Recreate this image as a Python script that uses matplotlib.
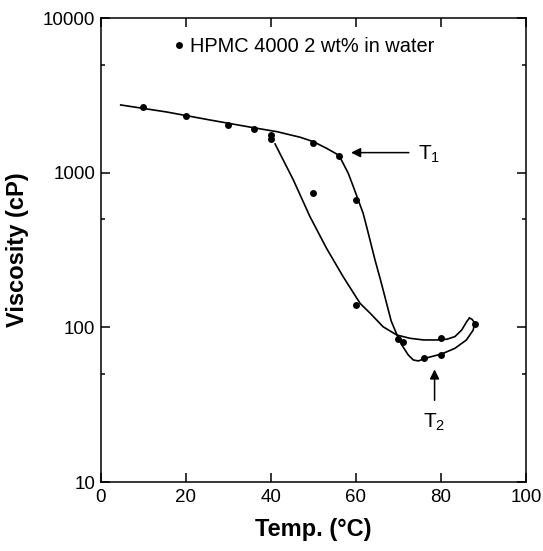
import numpy as np
import matplotlib
matplotlib.use("Agg")
import matplotlib.pyplot as plt
from matplotlib.ticker import LogLocator, NullFormatter, FixedLocator, FixedFormatter

plt.rcParams['font.family'] = ['Liberation Sans', 'DejaVu Sans']
plt.rcParams['mathtext.default'] = 'regular'

# measured points (temperature C, viscosity cP)
pts_temp = [10, 20, 30, 36, 40, 40, 50, 56, 50, 60, 60, 70, 71, 76, 80, 80, 88]
pts_visc = [2680, 2333, 2042, 1932, 1758, 1649, 1567, 1285, 738, 668, 140, 83.9, 80.6, 63.8, 66.4, 85.9, 106]

# heating curve (drawn line)
heat_temp = [4.7, 15.5, 25.7, 35.9, 41.4, 46.9, 50.0, 53.1, 56.0, 57.0, 58.2, 59.4, 61.7, 62.6, 64.5,
             65.85, 68.3, 69.7, 70.8, 72.3, 73.5, 74.7, 76.3, 80.2, 83.3, 86.0, 87.6, 87.9, 87.3, 86.7]
heat_visc = [2750, 2477, 2198, 1960, 1848, 1700, 1592, 1442, 1300, 1153, 994, 814, 548, 440, 273,
             200, 110, 89, 77, 66.4, 61.6, 60.7, 63.2, 67.4, 73.3, 83, 96.4, 107, 113, 115]

# cooling curve (drawn line)
cool_temp = [86.7, 86.05, 84.9, 83.3, 81.4, 79.0, 75.9, 72.7, 69.6, 66.4, 63.3, 61.0, 57.0, 53.1, 49.2, 45.3, 41.0]
cool_visc = [115, 109, 96.4, 87.3, 83.9, 83, 83, 85.1, 89.4, 101, 124, 143, 213, 325, 521, 899, 1538]

x_ticks = [0, 20, 40, 60, 80, 100]
y_ticks = [10, 100, 1000, 10000]

fig = plt.figure(figsize=(5.43, 5.51), dpi=100)
ax = fig.add_axes([0.1855, 0.1252, 0.7832, 0.8416])

ax.plot(heat_temp, heat_visc, color='black', lw=1.2)
ax.plot(cool_temp, cool_visc, color='black', lw=1.2)
ax.plot(pts_temp, pts_visc, 'o', color='black', ms=5, mec='none',
        label='HPMC 4000 2 wt% in water')

ax.set_yscale('log')
ax.set_xlim(0, 100)
ax.set_ylim(10, 10000)

ax.xaxis.set_major_locator(FixedLocator(x_ticks))
ax.yaxis.set_major_locator(FixedLocator(y_ticks))
ax.yaxis.set_major_formatter(FixedFormatter([str(v) for v in y_ticks]))
ax.yaxis.set_minor_locator(LogLocator(base=10, subs=[5]))
ax.yaxis.set_minor_formatter(NullFormatter())

ax.tick_params(which='both', direction='in', top=True, right=True, width=1.1)
ax.tick_params(which='major', length=6.2, labelsize=13.5)
ax.tick_params(axis='x', which='major', pad=5)
ax.tick_params(axis='y', which='major', pad=4)
ax.tick_params(which='minor', length=3)
for s in ax.spines.values():
    s.set_linewidth(1.1)

ax.set_xlabel('Temp. (\u00b0C)', fontsize=17, fontweight='bold', labelpad=9)
ax.set_ylabel('Viscosity (cP)', fontsize=17, fontweight='bold', labelpad=10)

# T1 / T2 markers
ax.annotate('', xy=(58.2, 1352), xytext=(73.1, 1352),
            arrowprops=dict(arrowstyle='-|>', color='black', lw=1.1, mutation_scale=14))
ax.text(74.6, 1325, r'T$_1$', fontsize=15, va='center', ha='left')
ax.annotate('', xy=(78.5, 55.8), xytext=(78.5, 32.4),
            arrowprops=dict(arrowstyle='-|>', color='black', lw=1.1, mutation_scale=14))
ax.text(78.5, 24.3, r'T$_2$', fontsize=15, va='center', ha='center')

ax.legend(loc='center left', bbox_to_anchor=(0.174, 0.9385), frameon=False,
          fontsize=14.4, handlelength=0.4, handletextpad=0.35, borderpad=0,
          borderaxespad=0, numpoints=1)

fig.savefig('out.png', dpi=100)
